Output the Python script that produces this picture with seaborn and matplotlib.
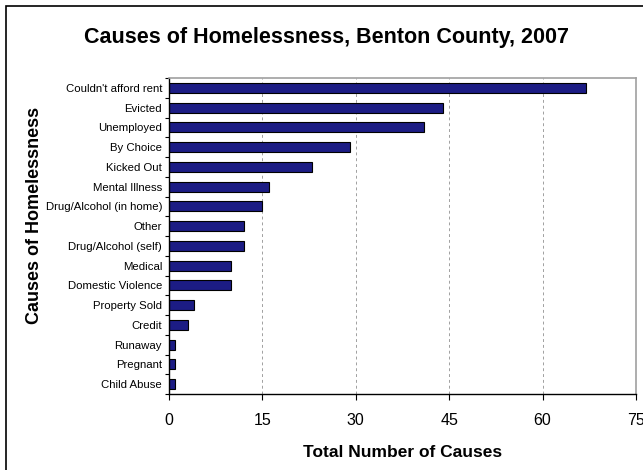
import matplotlib
matplotlib.use("Agg")
import matplotlib.pyplot as plt
import seaborn as sns
import pandas as pd
from matplotlib.patches import Rectangle
from matplotlib.ticker import FixedLocator

categories = ["Couldn't afford rent", "Evicted", "Unemployed", "By Choice", "Kicked Out",
              "Mental Illness", "Drug/Alcohol (in home)", "Other", "Drug/Alcohol (self)",
              "Medical", "Domestic Violence", "Property Sold", "Credit", "Runaway",
              "Pregnant", "Child Abuse"]
counts = [67, 44, 41, 29, 23, 16, 15, 12, 12, 10, 10, 4, 3, 1, 1, 1]
x_ticks = [0, 15, 30, 45, 60, 75]

df = pd.DataFrame({"cause": categories, "count": counts})

sns.set_style("white")
plt.rcParams["font.family"] = ["Liberation Sans", "DejaVu Sans"]
plt.rcParams["text.color"] = "black"
plt.rcParams["axes.labelcolor"] = "black"
plt.rcParams["xtick.color"] = "black"
plt.rcParams["ytick.color"] = "black"

fig = plt.figure(figsize=(6.43, 4.70), dpi=100)
ax = fig.add_axes([169/643, 1-394/470, (636-169)/643, (394-78)/470])

sns.barplot(data=df, y="cause", x="count", orient="h", color="#1c1c84",
            edgecolor="black", linewidth=0.8, width=0.5, saturation=1, ax=ax)

ax.set_xlim(0, 75)
ax.set_ylim(len(categories)-0.5, -0.5)
ax.set_xticks(x_ticks)
ax.set_xticklabels([str(t) for t in x_ticks], fontsize=11.5)
ax.tick_params(axis="x", direction="out", length=4, width=0.8, colors="black", pad=10, bottom=True)
ax.tick_params(axis="y", which="major", length=0, labelsize=8.2, pad=5, colors="black")
ax.yaxis.set_minor_locator(FixedLocator([i + 0.5 for i in range(-1, len(categories))]))
ax.tick_params(axis="y", which="minor", direction="out", length=3, width=0.8, color="black", left=True)

ax.grid(axis="x", linestyle=(0, (3, 3)), color="#a0a0a0", linewidth=0.7)
ax.set_axisbelow(True)
for s in ["top", "right"]:
    ax.spines[s].set_color("#a0a0a0")
    ax.spines[s].set_linewidth(1.2)
for s in ["left", "bottom"]:
    ax.spines[s].set_color("black")
    ax.spines[s].set_linewidth(1.0)

ax.set_xlabel("Total Number of Causes", fontsize=12.5, fontweight="bold", labelpad=12, color="black")
ax.set_ylabel("Causes of Homelessness", fontsize=13, fontweight="bold", color="black")
ax.yaxis.set_label_coords(-126/467, (394-215)/316)

fig.text(327/643, 1-37/470, "Causes of Homelessness, Benton County, 2007",
         ha="center", va="center", fontsize=15.5, fontweight="bold", color="black")

fig.patches.append(Rectangle((6/643, -0.1), 1.2, 1-6/470+0.1, transform=fig.transFigure,
                             fill=False, edgecolor="black", linewidth=1.2, figure=fig))

fig.savefig("out.png", dpi=100)
